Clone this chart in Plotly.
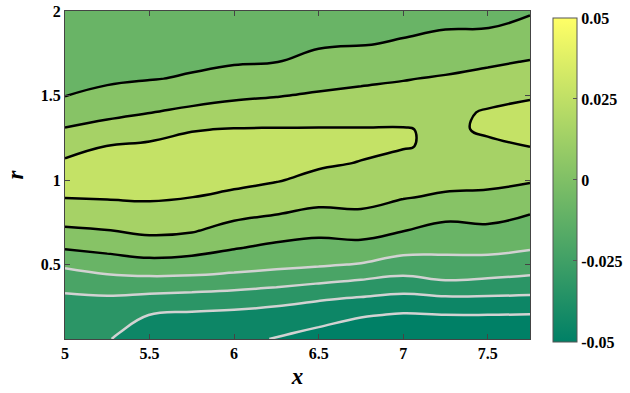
import numpy as np
import plotly.graph_objects as go

# grid
x_vals = [5.0, 5.25, 5.5, 5.75, 6.0, 6.25, 6.5, 6.75, 7.0, 7.25, 7.5, 7.75]
r_vals = [0.06, 0.1, 0.2, 0.3, 0.4, 0.5, 0.6, 0.7, 0.8, 0.9, 1.0,
          1.1, 1.2, 1.3, 1.4, 1.5, 1.6, 1.7, 1.8, 1.9, 2.0]

# one list per x column (values along r, bottom to top)
z_by_x = [
    [-0.034, -0.0328, -0.0298, -0.0268, -0.0208, -0.0102, 0.0010, 0.0106, 0.0184, 0.0254, 0.0292,
     0.0267, 0.0206, 0.0132, 0.0063, -0.0003, -0.0031, -0.006, -0.007, -0.0085, -0.010],
    [-0.0365, -0.0348, -0.0306, -0.0265, -0.0173, -0.0063, 0.0034, 0.0121, 0.0195, 0.0260, 0.0298,
     0.0285, 0.0252, 0.0169, 0.0093, 0.0024, -0.0015, -0.0038, -0.0058, -0.0074, -0.009],
    [-0.046, -0.0437, -0.0378, -0.0284, -0.0164, -0.0042, 0.0063, 0.0147, 0.0212, 0.0263, 0.0294,
     0.0295, 0.0266, 0.0210, 0.0122, 0.0054, -0.0005, -0.0027, -0.005, -0.007, -0.009],
    [-0.048, -0.0456, -0.0396, -0.0298, -0.0167, -0.0052, 0.0046, 0.0134, 0.0193, 0.0251, 0.0281,
     0.031, 0.0279, 0.0245, 0.0153, 0.0078, 0.0010, -0.0018, -0.0039, -0.006, -0.008],
    [-0.049, -0.0466, -0.0405, -0.0313, -0.0181, -0.0075, 0.0007, 0.0081, 0.0155, 0.0231, 0.0273,
     0.0304, 0.0285, 0.0255, 0.0179, 0.0102, 0.0036, -0.0009, -0.003, -0.005, -0.007],
    [-0.0502, -0.0478, -0.0417, -0.0338, -0.0206, -0.0094, -0.0024, 0.0051, 0.0128, 0.0198, 0.0257,
     0.0286, 0.0285, 0.0256, 0.0191, 0.0119, 0.0056, -0.0002, -0.0021, -0.004, -0.006],
    [-0.0555, -0.0524, -0.0445, -0.0363, -0.0236, -0.0111, -0.0042, 0.0029, 0.0100, 0.0164, 0.0223,
     0.0265, 0.0287, 0.0256, 0.0200, 0.0138, 0.0082, 0.0027, -0.0008, -0.0024, -0.004],
    [-0.060, -0.0569, -0.049, -0.0385, -0.0263, -0.0132, -0.0037, 0.0042, 0.0111, 0.0159, 0.0203,
     0.0246, 0.0270, 0.0255, 0.0207, 0.0154, 0.0101, 0.0046, -0.0002, -0.0016, -0.003],
    [-0.060, -0.0575, -0.0513, -0.0409, -0.0288, -0.0177, -0.0083, 0.0002, 0.0069, 0.0133, 0.0173,
     0.0214, 0.0258, 0.0256, 0.0207, 0.0164, 0.0119, 0.0063, 0.0006, -0.0009, -0.002],
    [-0.060, -0.0572, -0.0503, -0.0392, -0.0257, -0.0168, -0.0095, -0.0036, 0.0031, 0.0109, 0.0160,
     0.0203, 0.0228, 0.0233, 0.0226, 0.0186, 0.0137, 0.0083, 0.0028, -0.0003, -0.001],
    [-0.060, -0.0572, -0.0503, -0.0392, -0.0269, -0.0171, -0.0092, -0.0026, 0.0038, 0.0103, 0.0152,
     0.0193, 0.0234, 0.0262, 0.0259, 0.0219, 0.0162, 0.0106, 0.0050, -0.0001, -0.001],
    [-0.060, -0.0573, -0.0507, -0.0398, -0.0284, -0.0192, -0.0114, -0.0057, 0.0002, 0.0069, 0.0137,
     0.0196, 0.0252, 0.0274, 0.0267, 0.0244, 0.0188, 0.0131, 0.0076, 0.0022, -0.0008],
]

level_start = -0.05
level_step = 0.0125
level_end = 0.025

x_ticks = [5, 5.5, 6, 6.5, 7, 7.5]
x_ticktext = ["5", "5.5", "6", "6.5", "7", "7.5"]
r_ticks = [0.5, 1, 1.5, 2]
r_ticktext = ["0.5", "1", "1.5", "2"]
cb_ticks = [0.05, 0.025, 0, -0.025, -0.05]
cb_ticktext = ["0.05", "0.025", "0", "-0.025", "-0.05"]


def bold(labels):
    return ["<b>%s</b>" % t for t in labels]


def summer(c):
    return "rgb(%d,%d,%d)" % (round(255 * c), round(127.5 + 127.5 * c), 102)


# band fill colours (background, then band above each level)
band_c = [0.0, 0.05, 0.17, 0.29, 0.41, 0.53, 0.65, 0.77]
n_b = len(band_c) - 1
fill_scale = [[k / n_b, summer(c)] for k, c in enumerate(band_c)]
summer_scale = [[0, summer(0)], [1, summer(1)]]

z = np.array(z_by_x).T

tick_font = dict(family="Liberation Serif", size=16, color="black")

fig = go.Figure()
fig.add_trace(go.Contour(
    x=x_vals, y=r_vals, z=z,
    autocontour=False,
    contours=dict(start=level_start, end=level_end, size=level_step, coloring="fill", showlines=False),
    colorscale=fill_scale, showscale=False,
    line=dict(width=0, smoothing=1.2),
    hoverinfo="skip",
))
fig.add_trace(go.Contour(
    x=x_vals, y=r_vals, z=z,
    autocontour=False,
    contours=dict(start=level_start, end=-0.012, size=level_step, coloring="none"),
    line=dict(color="#d2d2d2", width=2.5, smoothing=1.2),
    showscale=False, hoverinfo="skip",
))
fig.add_trace(go.Contour(
    x=x_vals, y=r_vals, z=z,
    autocontour=False,
    contours=dict(start=0, end=level_end, size=level_step, coloring="none"),
    line=dict(color="black", width=2.5, smoothing=1.2),
    showscale=False, hoverinfo="skip",
))
# continuous colour bar
fig.add_trace(go.Scatter(
    x=[6], y=[1], mode="markers",
    marker=dict(size=1, opacity=0, color=[0], colorscale=summer_scale, cmin=-0.05, cmax=0.05,
                showscale=True,
                colorbar=dict(
                    x=1.049, xanchor="left", y=0.485, yanchor="middle",
                    thickness=24, thicknessmode="pixels", len=324, lenmode="pixels",
                    outlinewidth=1, outlinecolor="#555555",
                    xpad=0, ypad=0,
                    tickmode="array", tickvals=cb_ticks, ticktext=bold(cb_ticktext),
                    ticks="inside", ticklen=4, tickcolor="#555555",
                    tickfont=tick_font,
                )),
    hoverinfo="skip", showlegend=False,
))

axis_common = dict(
    showline=True, linecolor="#444444", linewidth=1, mirror="ticks",
    ticks="inside", ticklen=5, tickcolor="#444444", showgrid=False, zeroline=False,
    tickfont=tick_font, automargin=False,
)
fig.update_layout(
    width=630, height=393,
    margin=dict(l=65, r=100, t=11, b=54, autoexpand=False),
    paper_bgcolor="white", plot_bgcolor="white",
    showlegend=False,
    xaxis=dict(range=[5, 7.75], tickmode="array", tickvals=x_ticks, ticktext=bold(x_ticktext),
               title=dict(text="<b><i>x</i></b>", font=dict(family="Liberation Serif", size=23, color="black"),
                          standoff=6),
               **axis_common),
    yaxis=dict(range=[0.06, 2], tickmode="array", tickvals=r_ticks, ticktext=bold(r_ticktext),
               title=dict(text="<b><i>r</i></b>", font=dict(family="Liberation Serif", size=23, color="black"),
                          standoff=10),
               **axis_common),
)
fig.write_html("out.html", config={"displayModeBar": False},
               post_script="document.body.style.margin='0';")
